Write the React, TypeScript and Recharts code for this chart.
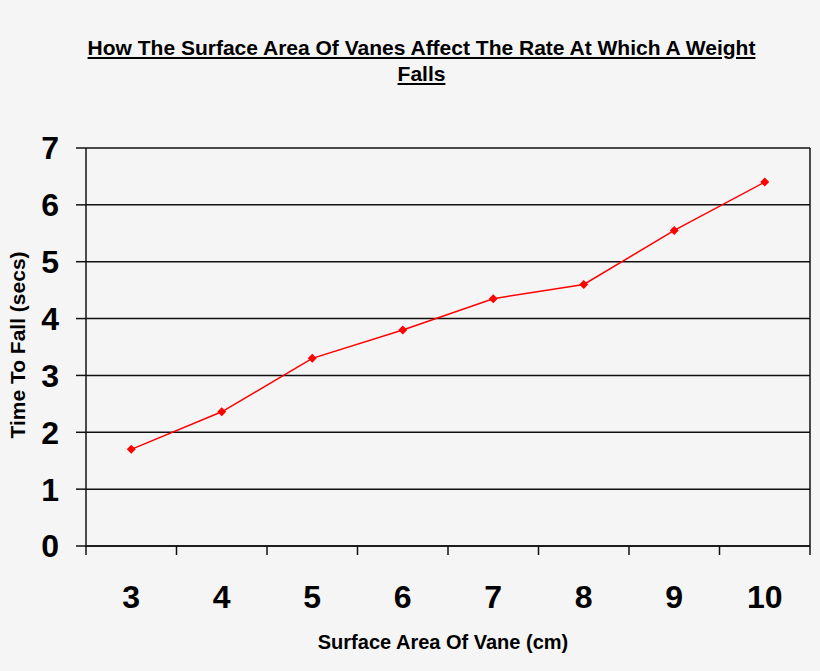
import { LineChart, Line, XAxis, YAxis, CartesianGrid, ReferenceLine } from 'recharts';

const vaneAreas = [3, 4, 5, 6, 7, 8, 9, 10];
const fallTimes = [1.7, 2.36, 3.3, 3.8, 4.35, 4.6, 5.55, 6.4];
const yTicks = [0, 1, 2, 3, 4, 5, 6, 7];
// band edges and centres, so tick marks sit between the labels like the original
const xTicks = [2.5, 3, 3.5, 4, 4.5, 5, 5.5, 6, 6.5, 7, 7.5, 8, 8.5, 9, 9.5, 10, 10.5];

const data = vaneAreas.map((area, i) => ({ area, time: fallTimes[i] }));

const font = '"Liberation Sans", Arial, sans-serif';

const XTick = ({ x, y, payload }: any) => {
    const v = payload.value;
    if (Number.isInteger(v)) {
        return <text x={x} y={y + 53} textAnchor="middle" fontSize={32} fontWeight="bold" fill="#000" fontFamily={font}>{v}</text>;
    }
    return <line x1={x} x2={x} y1={y - 9} y2={y} stroke="#111" strokeWidth={1.5}/>;
};

const Diamond = ({ cx, cy }: any) => {
    const r = 4.5;
    return <polygon points={`${cx},${cy - r} ${cx + r},${cy} ${cx},${cy + r} ${cx - r},${cy}`} fill="#ff0000"/>;
};

const App = () => {
    return <div style={{position: "absolute", left: 0, top: 0, width: 820, height: 671, background: "#f5f5f5", fontFamily: font}}>
        <div style={{position: "absolute", left: 0, width: 843, top: 35, textAlign: "center", fontSize: 21, fontWeight: "bold", textDecoration: "underline", lineHeight: "26px"}}>
            How The Surface Area Of Vanes Affect The Rate At Which A Weight<br/>Falls
        </div>
        <LineChart width={820} height={671} data={data} margin={{top: 148, right: 10, left: 0, bottom: 0}}>
            <CartesianGrid vertical={false} stroke="#111" strokeWidth={1.5}/>
            <XAxis dataKey="area" type="number" domain={[2.5, 10.5]} ticks={xTicks} interval={0}
                   tickLine={false} tickSize={9} tickMargin={0} height={125}
                   axisLine={{stroke: "#111", strokeWidth: 1.5}} tick={<XTick/>}/>
            <YAxis domain={[0, 7]} ticks={yTicks} interval={0} width={86} tickSize={10} tickMargin={17}
                   axisLine={{stroke: "#111", strokeWidth: 1.5}} tickLine={{stroke: "#111", strokeWidth: 1.5}}
                   tick={{fontSize: 32, fontWeight: "bold", fill: "#000", fontFamily: font}}/>
            <ReferenceLine x={10.5} stroke="#111" strokeWidth={1.5}/>
            <Line type="linear" dataKey="time" stroke="#ff0000" strokeWidth={1.5} dot={<Diamond/>} isAnimationActive={false}/>
        </LineChart>
        <div style={{position: "absolute", left: 243, width: 400, top: 632, textAlign: "center", fontSize: 20, fontWeight: "bold", lineHeight: "20px"}}>
            Surface Area Of Vane (cm)
        </div>
        <div style={{position: "absolute", left: 18, top: 345, width: 300, marginLeft: -150, marginTop: -12, textAlign: "center", fontSize: 21, fontWeight: "bold", lineHeight: "24px", transform: "rotate(-90deg)"}}>
            Time To Fall (secs)
        </div>
    </div>;
};

export default App;
